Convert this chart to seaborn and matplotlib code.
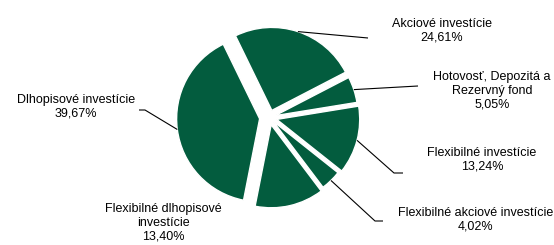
import matplotlib
matplotlib.use('Agg')
import matplotlib.pyplot as plt
import seaborn as sns
import numpy as np

# data
categories = ['Akciové investície', 'Hotovosť, Depozitá a\nRezervný fond', 'Flexibilné investície',
              'Flexibilné akciové investície', 'Flexibilné dlhopisové\ninvestície', 'Dlhopisové investície']
shares = [24.61, 5.05, 13.24, 4.02, 13.40, 39.67]
share_labels = ['24,61%', '5,05%', '13,24%', '4,02%', '13,40%', '39,67%']

# layout (pixels, y up, figure is 554x245)
W, H = 554, 245
center = (269.5, 127.5)
radius = 83
explode_frac = [0.09, 0.07, 0.09, 0.06, 0.09, 0.12]
label_pos = [(442, 214), (492, 154), (482, 85), (476, 25), (163, 22), (76, 138)]
# leader: (elbow, end) in pixels y-up, None = no leader
leaders = [[(368, 207)], [(418, 159)], [(394, 72), (403, 72)],
           [(375, 24), (383, 24)], None, [(145, 135), (139, 135)]]

green = '#035c3e'

sns.set_theme(style='white')
plt.rcParams['font.family'] = ['Liberation Sans', 'DejaVu Sans']

fig = plt.figure(figsize=(W / 100, H / 100), dpi=100)
ax = fig.add_axes([0, 0, 1, 1])

# matplotlib's explode is in data units, so scale by the radius
wedges, _ = ax.pie(shares, center=center, radius=radius, startangle=116, counterclock=False,
                   explode=[e * radius for e in explode_frac], colors=[green] * len(shares),
                   wedgeprops=dict(edgecolor='white', linewidth=1.0))

# pie() resets the limits, so set them afterwards
ax.set_xlim(0, W)
ax.set_ylim(0, H)
ax.set_aspect('equal')
ax.axis('off')

for w, name, pct, pos, lead in zip(wedges, categories, share_labels, label_pos, leaders):
    ax.text(pos[0], pos[1], f'{name}\n{pct}', ha='center', va='center',
            fontsize=9, color='black', linespacing=1.2)
    if lead is None:
        continue
    mid = np.deg2rad((w.theta1 + w.theta2) / 2)
    cx, cy = w.center
    start = (cx + w.r * np.cos(mid), cy + w.r * np.sin(mid))
    pts = [start] + lead
    ax.plot([p[0] for p in pts], [p[1] for p in pts], color='black', lw=0.8,
            solid_capstyle='butt')

fig.savefig('out.png', dpi=100)
